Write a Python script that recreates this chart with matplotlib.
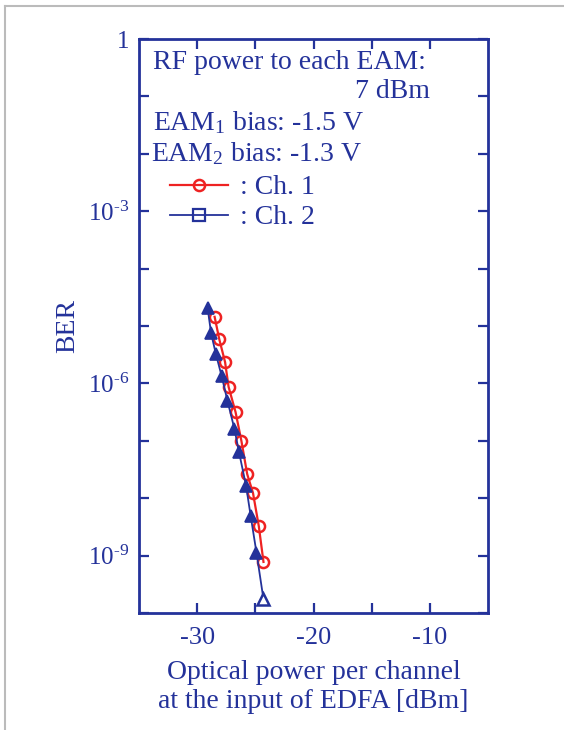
import matplotlib
matplotlib.use("Agg")
import matplotlib.pyplot as plt
from matplotlib.lines import Line2D
import matplotlib.ticker as mticker
import numpy as np

plt.rcParams['font.family'] = ['Liberation Serif', 'DejaVu Serif']
plt.rcParams['mathtext.fontset'] = 'custom'
plt.rcParams['mathtext.rm'] = 'Liberation Serif'
plt.rcParams['mathtext.it'] = 'Liberation Serif:italic'
plt.rcParams['mathtext.bf'] = 'Liberation Serif:bold'

NAVY = '#24329a'
RED = '#ee2222'

# Data
ch1_power = [-28.5, -28.1, -27.6, -27.3, -26.7, -26.2, -25.7, -25.2, -24.7, -24.3]
ch1_logber = [-4.84, -5.23, -5.63, -6.06, -6.50, -7.00, -7.58, -7.91, -8.49, -9.11]
ch2_power = [-29.1, -28.8, -28.4, -27.9, -27.4, -26.8, -26.4, -25.8, -25.4, -24.9, -24.3]
ch2_logber = [-4.69, -5.13, -5.48, -5.87, -6.30, -6.79, -7.20, -7.78, -8.31, -8.95, -9.76]

xticks_major = [-30, -25, -20, -15, -10]
xtick_labels = ['-30', '', '-20', '', '-10']
ytick_exps = [0, -1, -2, -3, -4, -5, -6, -7, -8, -9, -10]
ytick_labeled = {0: '1', -3: '$10^{\u2010 3}$', -6: '$10^{\u2010 6}$', -9: '$10^{\u2010 9}$'}

fig = plt.figure(figsize=(5.64, 7.30), dpi=100)
ax = fig.add_axes([139/564, 1-613/730, 349/564, 574/730])

ch1_ber = 10.0 ** np.array(ch1_logber)
ch2_ber = 10.0 ** np.array(ch2_logber)

ax.plot(ch1_power, ch1_ber, color=RED, lw=1.6, marker='o', ms=8,
        mfc='none', mec=RED, mew=1.8, zorder=3)
ax.plot(ch2_power, ch2_ber, color=NAVY, lw=1.3, zorder=4)
ax.plot(ch2_power[:-1], ch2_ber[:-1], ls='none', marker='^', ms=8,
        mfc=NAVY, mec=NAVY, mew=1.2, zorder=5)
ax.plot(ch2_power[-1:], ch2_ber[-1:], ls='none', marker='^', ms=8,
        mfc='white', mec=NAVY, mew=1.8, zorder=5)

ax.set_yscale('log')
ax.set_xlim(-35, -5)
ax.set_ylim(1e-10, 1)

ax.set_xticks(xticks_major)
ax.set_xticklabels(xtick_labels)
yt = [10.0 ** e for e in ytick_exps]
ax.set_yticks(yt)
ax.set_yticklabels([ytick_labeled.get(e, '') for e in ytick_exps])
ax.yaxis.set_minor_locator(mticker.NullLocator())

ax.tick_params(axis='both', which='major', direction='in', length=7, width=1.6,
               colors=NAVY, top=True, right=True)
ax.tick_params(axis='x', pad=10, labelsize=19)
ax.tick_params(axis='y', pad=7, labelsize=18)
for s in ax.spines.values():
    s.set_color(NAVY)
    s.set_linewidth(2.0)

ax.set_xlabel('Optical power per channel\nat the input of EDFA [dBm]',
              color=NAVY, fontsize=20, labelpad=8, linespacing=1.22)
ax.set_ylabel('BER', color=NAVY, fontsize=20, labelpad=6)

fs = 20
tx = 0.039
ax.text(tx, 0.947, 'RF power to each EAM:', transform=ax.transAxes,
        color=NAVY, fontsize=fs, va='baseline', ha='left')
ax.text(0.834, 0.897, '7 dBm', transform=ax.transAxes,
        color=NAVY, fontsize=fs, va='baseline', ha='right')
ax.text(tx, 0.841, r'EAM$_\mathrm{1}$ bias: -1.5 V', transform=ax.transAxes,
        color=NAVY, fontsize=fs, va='baseline', ha='left')
ax.text(tx - 0.004, 0.788, r'EAM$_\mathrm{2}$ bias: -1.3 V', transform=ax.transAxes,
        color=NAVY, fontsize=fs, va='baseline', ha='left')

handles = [Line2D([], [], color=RED, lw=1.6, marker='o', ms=8, mfc='none', mec=RED, mew=1.8),
           Line2D([], [], color=NAVY, lw=1.3, marker='s', ms=8, mfc='none', mec=NAVY, mew=1.6)]
leg = ax.legend(handles, [': Ch. 1', ': Ch. 2'], loc='upper left',
                bbox_to_anchor=(0.089, 0.763), frameon=False, fontsize=fs,
                handlelength=2.1, handletextpad=0.4, labelspacing=0.16,
                borderaxespad=0, borderpad=0, numpoints=1)
for t in leg.get_texts():
    t.set_color(NAVY)

# page border
fig.add_artist(Line2D([5/564, 5/564], [0, 1-6/730], color='#bbbbbb', lw=1.5,
                      transform=fig.transFigure))
fig.add_artist(Line2D([5/564, 1], [1-6/730, 1-6/730], color='#bbbbbb', lw=1.5,
                      transform=fig.transFigure))

fig.savefig('out.png', dpi=100, facecolor='white')
